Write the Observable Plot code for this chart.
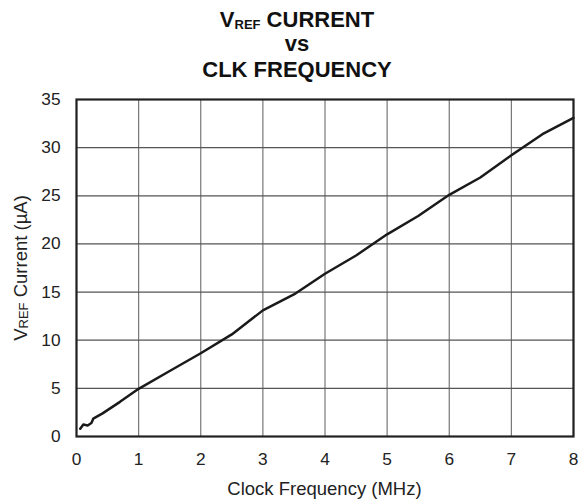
<!DOCTYPE html>
<html>
<head>
<meta charset="utf-8">
<script src="https://cdn.jsdelivr.net/npm/d3@7"></script>
<script src="https://cdn.jsdelivr.net/npm/@observablehq/plot@0.6"></script>
<style>
  html, body { margin: 0; padding: 0; background: #fff; }
  #wrap { width: 579px; height: 499px; position: relative; overflow: hidden; }
  svg { display: block; }
</style>
</head>
<body>
<div id="wrap">
  <svg id="title" width="579" height="90" font-family="'Liberation Sans', Arial, Helvetica, sans-serif" font-weight="bold" fill="#111">
    <text x="297" y="27" text-anchor="middle" font-size="22">V<tspan font-size="13" dy="2">REF</tspan><tspan dy="-2"> CURRENT</tspan></text>
    <text x="297" y="51" text-anchor="middle" font-size="22">vs</text>
    <text x="297" y="77" text-anchor="middle" font-size="22">CLK FREQUENCY</text>
  </svg>
  <div id="chart"></div>
</div>
<script>
// Clock frequency (MHz)
const freq = [0.06, 0.11, 0.18, 0.24, 0.27, 0.42, 0.7, 1.0, 1.5, 2.0, 2.5, 3.0, 3.5, 4.0, 4.5, 5.0, 5.5, 6.0, 6.5, 7.0, 7.5, 8.0];
// VREF current (µA)
const current = [0.8, 1.25, 1.15, 1.4, 1.85, 2.4, 3.6, 4.95, 6.8, 8.65, 10.6, 13.1, 14.75, 16.9, 18.8, 21.0, 22.9, 25.1, 26.9, 29.2, 31.4, 33.1];
const xTicks = [0, 1, 2, 3, 4, 5, 6, 7, 8];
const yTicks = [0, 5, 10, 15, 20, 25, 30, 35];

const data = freq.map((f, i) => ({f, c: current[i]}));

const chart = Plot.plot({
  width: 579,
  height: 409,
  marginLeft: 76,
  marginRight: 6,
  marginTop: 9,
  marginBottom: 63,
  style: {fontFamily: "'Liberation Sans', Arial, Helvetica, sans-serif", fontSize: "17px", color: "#222", background: "white"},
  x: {domain: [0, 8], label: null},
  y: {domain: [0, 35], label: null},
  marks: [
    Plot.gridX(xTicks, {stroke: "#777", strokeOpacity: 1, strokeWidth: 1.2}),
    Plot.gridY(yTicks, {stroke: "#555", strokeOpacity: 1, strokeWidth: 1.2}),
    Plot.line(data, {x: "f", y: "c", stroke: "#1a1a1a", strokeWidth: 2.5, curve: "linear"}),
    Plot.frame({stroke: "#222", strokeWidth: 2.2}),
    Plot.axisX(xTicks, {tickSize: 0, tickPadding: 16, label: null, fontSize: 17.3}),
    Plot.axisY(yTicks, {tickSize: 0, tickPadding: 16, label: null, fontSize: 17.3})
  ]
});
document.getElementById("chart").appendChild(chart);

const svg = d3.select(chart);
// X axis label
svg.append("text")
  .attr("x", (76 + 573) / 2)
  .attr("y", 495 - 90)
  .attr("text-anchor", "middle")
  .attr("font-size", 18.5)
  .attr("fill", "#222")
  .text("Clock Frequency (MHz)");
// Y axis label with subscript
const yl = svg.append("text")
  .attr("transform", "translate(27," + (268 - 90) + ") rotate(-90)")
  .attr("text-anchor", "middle")
  .attr("font-size", 18.5)
  .attr("fill", "#222");
yl.append("tspan").text("V");
yl.append("tspan").attr("font-size", 13).attr("dy", 1).text("REF");
yl.append("tspan").attr("dy", -1).text(" Current (µA)");
</script>
</body>
</html>
